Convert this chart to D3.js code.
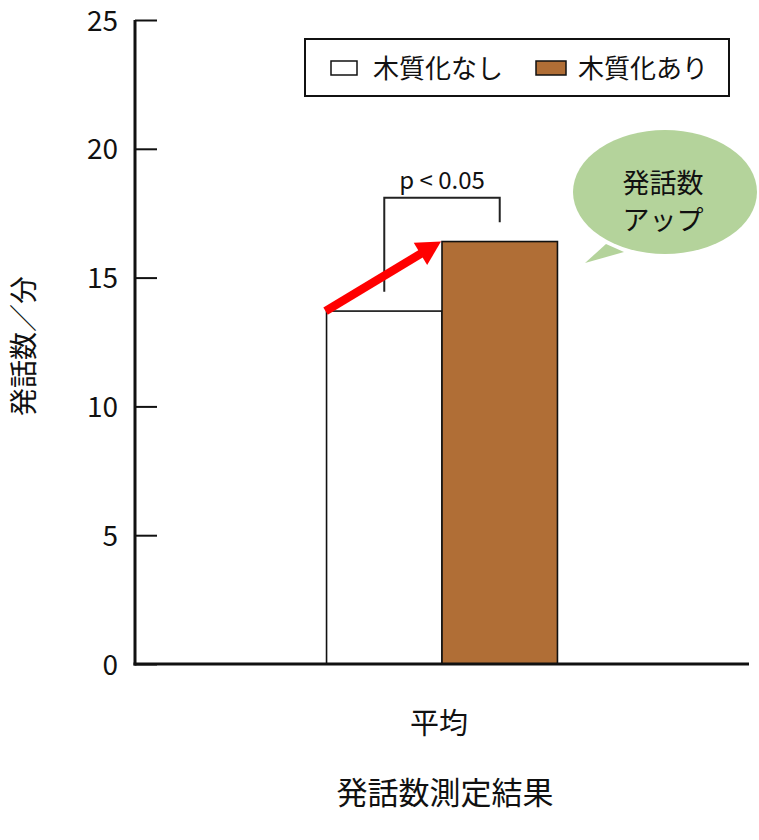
<!DOCTYPE html>
<html>
<head>
<meta charset="utf-8">
<script src="https://cdn.jsdelivr.net/npm/d3@7"></script>
<style>
  body { margin: 0; background: #fff; }
  svg text { font-family: "Noto Sans CJK JP", "Noto Sans", sans-serif; fill: #111; }
</style>
</head>
<body>
<svg id="chart" width="759" height="840"></svg>
<script>
// data
const categories = ["平均"];
const seriesNames = ["木質化なし", "木質化あり"];
const seriesColors = ["#ffffff", "#b06e36"];
const values = [13.7, 16.4];
const yTicks = [0, 5, 10, 15, 20, 25];
const pLabel = "p < 0.05";
const bubbleLines = ["発話数", "アップ"];

const svg = d3.select("#chart");
const plotLeft = 135, plotRight = 749, plotTop = 20, plotBottom = 664;

const y = d3.scaleLinear().domain([0, 25]).range([plotBottom, plotTop]);
const x = d3.scaleBand().domain(categories).range([plotLeft, plotRight]).padding(0.4534);
const xs = d3.scaleBand().domain(seriesNames).range([0, x.bandwidth()]);

// bars
const g = svg.append("g");
g.selectAll(".bar")
    .data(seriesNames.map((s, i) => ({ s, v: values[i], c: seriesColors[i] })))
    .enter().append("rect")
    .attr("class", "bar")
    .attr("x", d => x(categories[0]) + xs(d.s))
    .attr("y", d => y(d.v))
    .attr("width", xs.bandwidth())
    .attr("height", d => y(0) - y(d.v))
    .attr("fill", d => d.c)
    .attr("stroke", "#111")
    .attr("stroke-width", 1.6);

// y axis with inward ticks
const yAxis = svg.append("g")
    .attr("transform", `translate(${plotLeft},0)`)
    .call(d3.axisRight(y).tickValues(yTicks).tickSize(22).tickFormat(d3.format("d")));
yAxis.select(".domain").remove();
yAxis.selectAll(".tick line").attr("stroke", "#111").attr("stroke-width", 2);
yAxis.selectAll(".tick text")
    .attr("x", -17)
    .attr("text-anchor", "end")
    .attr("dy", "0.36em")
    .style("font-size", "28px");

svg.append("line")
    .attr("x1", plotLeft).attr("x2", plotLeft)
    .attr("y1", y(25)).attr("y2", plotBottom + 1.5)
    .attr("stroke", "#111").attr("stroke-width", 3);
svg.append("line")
    .attr("x1", plotLeft - 1.5).attr("x2", plotRight)
    .attr("y1", plotBottom).attr("y2", plotBottom)
    .attr("stroke", "#111").attr("stroke-width", 3);

// axis labels
svg.append("text")
    .attr("transform", `translate(34,${(plotTop + plotBottom) / 2 + 4}) rotate(-90)`)
    .attr("text-anchor", "middle")
    .style("font-size", "28px")
    .text("発話数／分");

svg.append("text")
    .attr("x", x(categories[0]) + x.bandwidth() / 2 - 3)
    .attr("y", 734)
    .attr("text-anchor", "middle")
    .style("font-size", "29px")
    .text(categories[0]);

svg.append("text")
    .attr("x", 445)
    .attr("y", 804)
    .attr("text-anchor", "middle")
    .style("font-size", "31px")
    .text("発話数測定結果");

// significance bracket
const cx0 = x(categories[0]) + xs(seriesNames[0]) + xs.bandwidth() / 2;
const cx1 = x(categories[0]) + xs(seriesNames[1]) + xs.bandwidth() / 2;
const topV = 18.1;
svg.append("path")
    .attr("d", `M${cx0},${y(values[0] + 0.75)} V${y(topV)} H${cx1} V${y(values[1] + 0.75)}`)
    .attr("fill", "none").attr("stroke", "#222").attr("stroke-width", 2);
svg.append("text")
    .attr("x", (cx0 + cx1) / 2)
    .attr("y", y(topV) - 9)
    .attr("text-anchor", "middle")
    .style("font-size", "24px")
    .text(pLabel);

// red arrow from white bar top to brown bar top
const ax0 = x(categories[0]) + xs(seriesNames[0]) - 1, ay0 = y(values[0]);
const ax1 = x(categories[0]) + xs(seriesNames[1]) - 1, ay1 = y(values[1]);
const ang = Math.atan2(ay1 - ay0, ax1 - ax0);
const headLen = 24, headW = 13;
const bx = ax1 - headLen * Math.cos(ang), by = ay1 - headLen * Math.sin(ang);
svg.append("line")
    .attr("x1", ax0).attr("y1", ay0)
    .attr("x2", bx + 2 * Math.cos(ang)).attr("y2", by + 2 * Math.sin(ang))
    .attr("stroke", "#ff0000").attr("stroke-width", 8.5);
svg.append("path")
    .attr("d", `M${ax1},${ay1} L${bx - headW * Math.sin(ang)},${by + headW * Math.cos(ang)} L${bx + headW * Math.sin(ang)},${by - headW * Math.cos(ang)} Z`)
    .attr("fill", "#ff0000");

// legend
const lg = svg.append("g");
lg.append("rect")
    .attr("x", 305).attr("y", 39).attr("width", 424).attr("height", 57)
    .attr("fill", "#fff").attr("stroke", "#111").attr("stroke-width", 2);
const legendX = [331, 536];
seriesNames.forEach((s, i) => {
    lg.append("rect")
        .attr("x", legendX[i]).attr("y", 61)
        .attr("width", i === 0 ? 26 : 30).attr("height", 14)
        .attr("fill", seriesColors[i]).attr("stroke", "#111").attr("stroke-width", 1.5);
    lg.append("text")
        .attr("x", legendX[i] + 42).attr("y", 78)
        .style("font-size", "26px")
        .text(s);
});

// speech bubble
const bub = svg.append("g");
bub.append("path")
    .attr("d", "M606,244 L585,263 L624,252 Z")
    .attr("fill", "#b4d39b");
bub.append("ellipse")
    .attr("cx", 665).attr("cy", 192).attr("rx", 92).attr("ry", 62)
    .attr("fill", "#b4d39b");
bub.selectAll(".bl")
    .data(bubbleLines)
    .enter().append("text")
    .attr("class", "bl")
    .attr("x", 663)
    .attr("y", (d, i) => 193 + i * 37)
    .attr("text-anchor", "middle")
    .style("font-size", "27px")
    .text(d => d);
</script>
</body>
</html>
